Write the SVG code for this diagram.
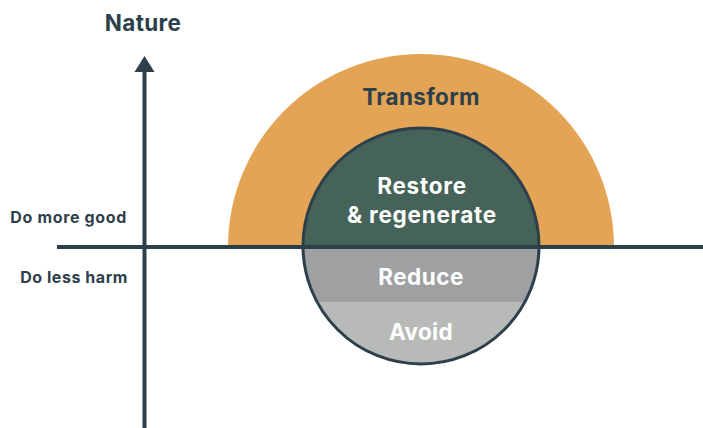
<svg xmlns="http://www.w3.org/2000/svg" width="703" height="428" viewBox="0 0 703 428">
<defs>
<style>
text{font-family:Inter,"Noto Sans","Liberation Sans",sans-serif;font-weight:700}
.dark{fill:#2E3F4C}
.light{fill:#ffffff}
.axis{stroke:#2E3F4C;stroke-width:4;fill:none}
</style>
<clipPath id="circ"><circle cx="421" cy="246" r="118"/></clipPath>
</defs>
<rect width="703" height="428" fill="#ffffff"/>
<g id="transform">
<path d="M228 247 A193 193 0 0 1 614 247 Z" fill="#E3A455"/>
<text class="dark" x="421" y="105" font-size="22.5" letter-spacing="0.35" text-anchor="middle">Transform</text>
</g>
<g id="circle">
<g clip-path="url(#circ)">
<rect x="300" y="120" width="250" height="127" fill="#456358"/>
<rect x="300" y="247" width="250" height="55" fill="#9EA0A2"/>
<rect x="300" y="302" width="250" height="70" fill="#B8BAB8"/>
</g>
<circle cx="421" cy="246" r="118" fill="none" stroke="#2E3F4C" stroke-width="3"/>
</g>
<g id="restore">
<text class="light" x="422" y="194" font-size="22.5" letter-spacing="0.75" text-anchor="middle">Restore</text>
<text class="light" x="422" y="223" font-size="22.5" letter-spacing="0.75" text-anchor="middle">&amp; regenerate</text>
</g>
<g id="reduce"><text class="light" x="421" y="285" font-size="22.5" letter-spacing="0.5" text-anchor="middle">Reduce</text></g>
<g id="avoid"><text class="light" x="421" y="340" font-size="22.5" letter-spacing="0.35" text-anchor="middle">Avoid</text></g>
<g id="connectors">
<line class="axis" x1="57" y1="247" x2="703" y2="247"/>
<line class="axis" x1="144.5" y1="68" x2="144.5" y2="428"/>
<path d="M144.5 56 L154.5 72 L134.5 72 Z" fill="#2E3F4C"/>
</g>
<g id="labels">
<text class="dark" x="143" y="31" font-size="22.5" letter-spacing="0.3" text-anchor="middle">Nature</text>
<text class="dark" x="127" y="223" font-size="16" letter-spacing="0.65" text-anchor="end">Do more good</text>
<text class="dark" x="128" y="283" font-size="16" letter-spacing="0.55" text-anchor="end">Do less harm</text>
</g>
</svg>
